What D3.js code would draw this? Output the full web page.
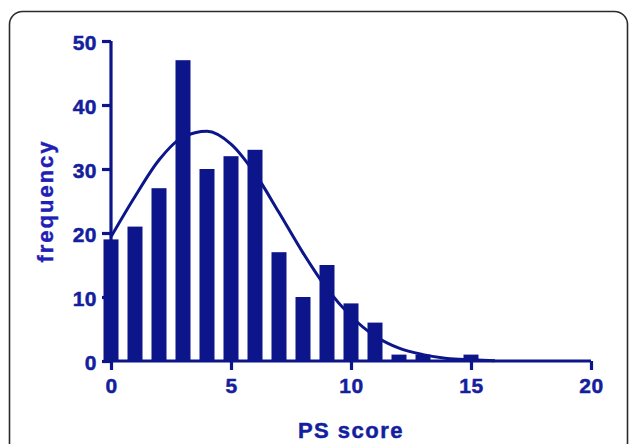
<!DOCTYPE html>
<html>
<head>
<meta charset="utf-8">
<script src="https://cdn.jsdelivr.net/npm/d3@7"></script>
<style>
  html, body { margin: 0; padding: 0; background: #ffffff; }
  svg { display: block; }
  text { font-family: "Liberation Sans", Arial, sans-serif; font-weight: bold; }
</style>
</head>
<body>
<svg id="chart" width="629" height="444"></svg>
<script>
// ---- data ----
const scores = [0, 1, 2, 3, 4, 5, 6, 7, 8, 9, 10, 11, 12, 13, 14, 15];
const frequencies = [19, 21, 27, 47, 30, 32, 33, 17, 10, 15, 9, 6, 1, 1, 0, 1];
// fitted curve, read at each score
const curveX = [0, 1, 2, 3, 4, 5, 6, 7, 8, 9, 10, 11, 12, 13, 14, 15, 16];
const curveY = [19.4, 25.7, 31.4, 35.0, 35.9, 33.9, 29.3, 23.2, 16.9, 11.3, 7.0, 3.9, 2.0, 1.0, 0.4, 0.2, 0.05];
const xTicks = [0, 5, 10, 15, 20];
const yTicks = [0, 10, 20, 30, 40, 50];
const xTitle = "PS score";
const yTitle = "frequency";

const navy = "#0c168a";
const labelBlue = "#151f9e";

const svg = d3.select("#chart");

// frame
svg.append("rect")
  .attr("x", 9.5).attr("y", 11.5)
  .attr("width", 618).attr("height", 480)
  .attr("rx", 13).attr("ry", 13)
  .attr("fill", "none")
  .attr("stroke", "#2b2b2b")
  .attr("stroke-width", 1.6);

const x = d3.scaleLinear().domain([0, 20]).range([111, 591]);
const y = d3.scaleLinear().domain([0, 50]).range([361, 41]);
const halfW = 0.3125;

const g = svg.append("g");

// bars
g.selectAll("rect.bar")
  .data(scores.map((s, i) => ({ s, v: frequencies[i] })).filter(d => d.v > 0))
  .join("rect")
  .attr("class", "bar")
  .attr("x", d => x(d.s - halfW))
  .attr("width", d => x(d.s + halfW) - x(d.s - halfW))
  .attr("y", d => y(d.v))
  .attr("height", d => y(0) - y(d.v))
  .attr("fill", navy);

// fitted curve
const line = d3.line()
  .x(d => x(d[0]))
  .y(d => y(d[1]))
  .curve(d3.curveMonotoneX);
g.append("path")
  .datum(curveX.map((c, i) => [c, curveY[i]]))
  .attr("d", line)
  .attr("fill", "none")
  .attr("stroke", navy)
  .attr("stroke-width", 3);

// axes
const yAxis = d3.axisLeft(y).tickValues(yTicks).tickSize(9).tickSizeOuter(0).tickPadding(5);
const xAxis = d3.axisBottom(x).tickValues(xTicks).tickSize(9).tickSizeOuter(0).tickPadding(8);

const ya = svg.append("g").attr("transform", "translate(111,0)").call(yAxis);
const xa = svg.append("g").attr("transform", "translate(0,361)").call(xAxis);

[ya, xa].forEach(a => {
  a.select(".domain").attr("stroke", navy).attr("stroke-width", 3.2);
  a.selectAll(".tick line").attr("stroke", navy).attr("stroke-width", 3.2);
  a.selectAll(".tick text")
    .attr("fill", labelBlue)
    .attr("stroke", labelBlue)
    .attr("stroke-width", 0.5)
    .style("font-size", "21px")
    .style("letter-spacing", "0.5px");
});
ya.selectAll(".tick text").attr("dy", "0.42em");
ya.select(".domain").attr("d", "M0,41V361");
xa.select(".domain").attr("d", "M111,0H591");

// axis titles
svg.append("text")
  .attr("x", 351).attr("y", 438)
  .attr("text-anchor", "middle")
  .attr("fill", labelBlue)
  .attr("stroke", labelBlue)
  .attr("stroke-width", 0.5)
  .style("font-size", "22px")
  .style("letter-spacing", "1.5px")
  .text(xTitle);

svg.append("text")
  .attr("transform", "translate(53,201) rotate(-90)")
  .attr("text-anchor", "middle")
  .attr("fill", "#2020b6")
  .attr("stroke", "#2020b6")
  .attr("stroke-width", 0.4)
  .style("font-size", "22px")
  .style("letter-spacing", "2px")
  .text(yTitle);
</script>
</body>
</html>
